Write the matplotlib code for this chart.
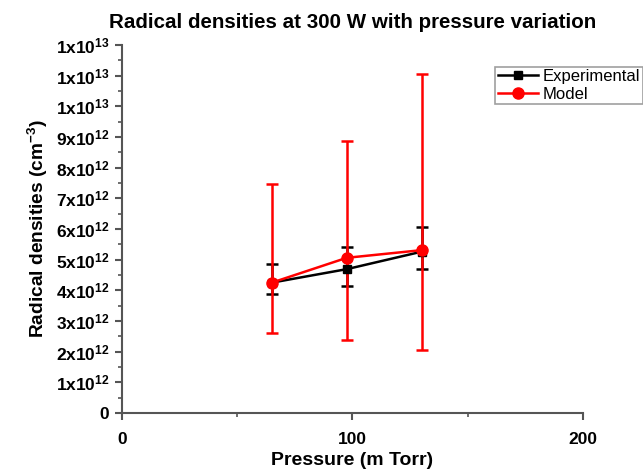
import numpy as np
import matplotlib
matplotlib.use("Agg")
import matplotlib.pyplot as plt
from matplotlib.ticker import MultipleLocator, FixedLocator

plt.rcParams['font.family'] = ['Liberation Sans', 'DejaVu Sans']
plt.rcParams['mathtext.default'] = 'regular'

# data
pressure = [65, 97.5, 130]
exp_density = [4.25e12, 4.69e12, 5.26e12]
exp_low = [3.88e12, 4.15e12, 4.69e12]
exp_high = [4.86e12, 5.40e12, 6.05e12]
model_density = [4.25e12, 5.06e12, 5.31e12]
model_low = [2.60e12, 2.38e12, 2.05e12]
model_high = [7.47e12, 8.88e12, 11.04e12]

xticks = [0, 100, 200]
yticks = [i * 1e12 for i in range(13)]
ytick_labels = ['0'] + ['%dx10$^{12}$' % i for i in range(1, 10)] + ['1x10$^{13}$'] * 3

fig = plt.figure(figsize=(6.43, 4.76), dpi=100)
ax = fig.add_axes([0.1897, 0.1324, 0.717, 0.7731])

exp_err = [np.subtract(exp_density, exp_low), np.subtract(exp_high, exp_density)]
model_err = [np.subtract(model_density, model_low), np.subtract(model_high, model_density)]

e1 = ax.errorbar(pressure, exp_density, yerr=exp_err, color='black', marker='s',
                 markersize=6, linewidth=1.8, elinewidth=1.8, capsize=4, capthick=1.8)
e2 = ax.errorbar(pressure, model_density, yerr=model_err, color='#ff0000', marker='o',
                 markersize=8, linewidth=1.8, elinewidth=1.8, capsize=4, capthick=1.8)

ax.set_xlim(0, 200)
ax.set_ylim(0, 1.2e13)
ax.xaxis.set_major_locator(FixedLocator(xticks))
ax.xaxis.set_minor_locator(MultipleLocator(50))
ax.yaxis.set_major_locator(FixedLocator(yticks))
ax.yaxis.set_minor_locator(MultipleLocator(0.5e12))
ax.set_xticklabels([str(t) for t in xticks], fontsize=12.5, fontweight='bold')
ax.set_yticklabels(ytick_labels, fontsize=12.5, fontweight='bold')

for s in ['top', 'right']:
    ax.spines[s].set_visible(False)
for s in ['left', 'bottom']:
    ax.spines[s].set_color('#555555')
    ax.spines[s].set_linewidth(1.5)
ax.tick_params(which='major', direction='out', length=5, width=1.5, color='#555555', pad=4)
ax.tick_params(axis='x', which='major', pad=9)
ax.tick_params(which='minor', direction='out', length=3, width=1.2, color='#555555')

ax.set_title('Radical densities at 300 W with pressure variation', fontsize=14.8,
             fontweight='bold', pad=12)
ax.set_xlabel('Pressure (m Torr)', fontsize=14, fontweight='bold', labelpad=3)
ax.set_ylabel('Radical densities (cm$^{-3}$)', fontsize=13.8, fontweight='bold', labelpad=4)

leg = fig.legend([e1[0], e2[0]], ['Experimental', 'Model'], loc='upper left',
                 bbox_to_anchor=(0.770, 0.860), fontsize=12,
                 frameon=True, fancybox=False, borderpad=0.15, labelspacing=0.15,
                 handlelength=2.4, handletextpad=0.3, borderaxespad=0)
leg.get_frame().set_edgecolor('#888888')
leg.get_frame().set_linewidth(1.2)

fig.savefig('out.png', dpi=100)
